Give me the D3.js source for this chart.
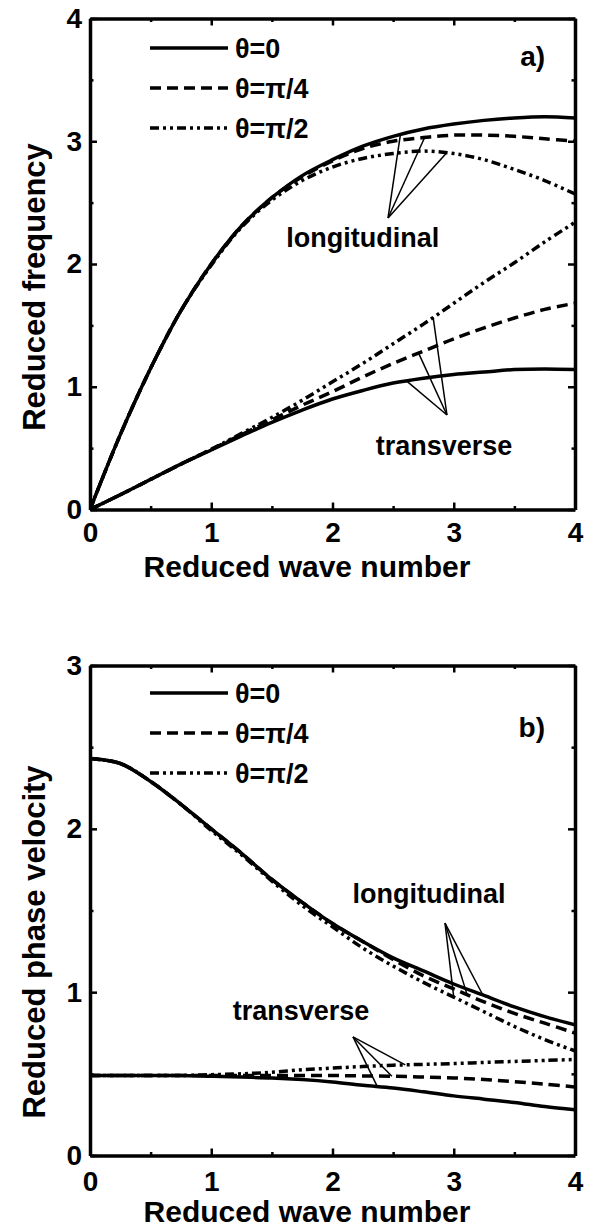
<!DOCTYPE html>
<html>
<head>
<meta charset="utf-8">
<script src="https://cdn.jsdelivr.net/npm/d3@7"></script>
<style>
  body { margin: 0; background: #fff; overflow: hidden; }
  svg { display: block; }
  svg text { font-family: "Liberation Sans", Arial, sans-serif; font-weight: bold; fill: #000; }
</style>
</head>
<body>
<svg id="chart" width="598" height="1232"></svg>
<script>
// reduced wave number grid shared by every curve
const waveNumber = [0, 0.25, 0.5, 0.75, 1, 1.25, 1.5, 1.75, 2, 2.25, 2.5, 2.75, 3, 3.25, 3.5, 3.75, 4];

// panel a) reduced frequency
const freqLong0   = [0, 0.61, 1.15, 1.62, 2.00, 2.31, 2.54, 2.72, 2.85, 2.96, 3.04, 3.10, 3.14, 3.17, 3.19, 3.20, 3.19];
const freqLongPi4 = [0, 0.61, 1.15, 1.62, 2.00, 2.31, 2.54, 2.71, 2.84, 2.94, 3.00, 3.03, 3.05, 3.05, 3.04, 3.02, 3.00];
const freqLongPi2 = [0, 0.61, 1.15, 1.62, 1.99, 2.30, 2.52, 2.68, 2.79, 2.86, 2.90, 2.92, 2.90, 2.85, 2.77, 2.68, 2.57];
const freqTrans0   = [0, 0.12, 0.245, 0.37, 0.485, 0.60, 0.71, 0.81, 0.90, 0.97, 1.03, 1.07, 1.10, 1.12, 1.14, 1.145, 1.14];
const freqTransPi4 = [0, 0.12, 0.245, 0.37, 0.49, 0.61, 0.73, 0.85, 0.96, 1.08, 1.19, 1.29, 1.39, 1.48, 1.56, 1.63, 1.68];
const freqTransPi2 = [0, 0.12, 0.245, 0.37, 0.49, 0.62, 0.75, 0.89, 1.04, 1.19, 1.35, 1.51, 1.68, 1.85, 2.01, 2.18, 2.34];

// panel b) reduced phase velocity
const velLong0   = [2.43, 2.40, 2.29, 2.15, 2.00, 1.85, 1.69, 1.55, 1.42, 1.31, 1.21, 1.13, 1.05, 0.98, 0.91, 0.85, 0.80];
const velLongPi4 = [2.43, 2.40, 2.29, 2.15, 2.00, 1.85, 1.69, 1.55, 1.42, 1.31, 1.20, 1.10, 1.02, 0.94, 0.87, 0.81, 0.75];
const velLongPi2 = [2.43, 2.40, 2.29, 2.15, 1.99, 1.84, 1.68, 1.53, 1.40, 1.27, 1.16, 1.06, 0.97, 0.88, 0.79, 0.71, 0.64];
const velTrans0   = [0.49, 0.49, 0.49, 0.49, 0.485, 0.48, 0.475, 0.465, 0.45, 0.43, 0.413, 0.39, 0.365, 0.345, 0.325, 0.30, 0.28];
const velTransPi4 = [0.49, 0.49, 0.49, 0.49, 0.49, 0.49, 0.49, 0.49, 0.49, 0.487, 0.485, 0.48, 0.475, 0.465, 0.452, 0.437, 0.42];
const velTransPi2 = [0.49, 0.49, 0.49, 0.49, 0.495, 0.50, 0.51, 0.525, 0.535, 0.545, 0.553, 0.558, 0.563, 0.57, 0.576, 0.582, 0.588];

const xTicks = [0, 1, 2, 3, 4];
const xMinor = [0.5, 1.5, 2.5, 3.5];
const legendLabels = ["θ=0", "θ=π/4", "θ=π/2"];
const styles = [null, "11,6", "9,4,3,4,3,4"];

const svg = d3.select("#chart");

const x = d3.scaleLinear().domain([0, 4]).range([90, 575]);

function drawPanel(p) {
    const y = d3.scaleLinear().domain([0, p.yMax]).range([p.bottom, p.top]);
    const g = svg.append("g");

    // curves, clipped to the frame
    g.append("clipPath").attr("id", p.id + "-clip")
        .append("rect").attr("x", 90).attr("y", p.top).attr("width", 485).attr("height", p.bottom - p.top);
    const line = d3.line().x(d => x(d[0])).y(d => y(d[1])).curve(d3.curveCatmullRom.alpha(0.5));
    const curves = g.append("g").attr("clip-path", `url(#${p.id}-clip)`);
    p.series.forEach((vals, i) => {
        curves.append("path")
            .datum(waveNumber.map((k, j) => [k, vals[j]]))
            .attr("d", line)
            .attr("fill", "none")
            .attr("stroke", "#000")
            .attr("stroke-width", 3.5)
            .attr("stroke-dasharray", styles[i % 3]);
    });

    // axes: labelled bottom/left, mirrored top/right, ticks inward
    const setup = (sel) => {
        sel.select(".domain").attr("stroke-width", 3.5);
        sel.selectAll(".tick line").attr("stroke-width", 2.5);
        sel.selectAll("text").attr("font-size", 28);
    };
    g.append("g").attr("transform", `translate(0,${p.bottom})`)
        .call(d3.axisBottom(x).tickValues(xTicks).tickSizeInner(-7).tickSizeOuter(0).tickPadding(p.xPad).tickFormat(d3.format("d")))
        .call(setup);
    g.append("g").attr("transform", `translate(0,${p.top})`)
        .call(d3.axisTop(x).tickValues(xTicks).tickSizeInner(-7).tickSizeOuter(0).tickFormat(""))
        .call(setup);
    g.append("g").attr("transform", "translate(90,0)")
        .call(d3.axisLeft(y).tickValues(p.yTicks).tickSizeInner(-7).tickSizeOuter(0).tickPadding(8).tickFormat(d3.format("d")))
        .call(setup);
    g.append("g").attr("transform", "translate(575,0)")
        .call(d3.axisRight(y).tickValues(p.yTicks).tickSizeInner(-7).tickSizeOuter(0).tickFormat(""))
        .call(setup);

    // minor ticks
    const minor = (sel) => { sel.select(".domain").remove(); sel.selectAll(".tick line").attr("stroke-width", 2.5); };
    g.append("g").attr("transform", `translate(0,${p.bottom})`)
        .call(d3.axisBottom(x).tickValues(xMinor).tickSize(-3.5).tickFormat("")).call(minor);
    g.append("g").attr("transform", `translate(0,${p.top})`)
        .call(d3.axisTop(x).tickValues(xMinor).tickSize(-3.5).tickFormat("")).call(minor);
    g.append("g").attr("transform", "translate(90,0)")
        .call(d3.axisLeft(y).tickValues(p.yMinor).tickSize(-3.5).tickFormat("")).call(minor);
    g.append("g").attr("transform", "translate(575,0)")
        .call(d3.axisRight(y).tickValues(p.yMinor).tickSize(-3.5).tickFormat("")).call(minor);

    // axis titles
    g.append("text").attr("x", 307).attr("y", p.bottom + p.xTitleGap)
        .attr("text-anchor", "middle").attr("font-size", 30).text("Reduced wave number");
    g.append("text").attr("transform", `translate(45,${p.yTitleCenter}) rotate(-90)`)
        .attr("text-anchor", "middle").attr("font-size", 31).text(p.yTitle);

    // legend
    legendLabels.forEach((lab, i) => {
        const ly = p.legendTop + i * 40;
        g.append("line").attr("x1", 150).attr("x2", 228).attr("y1", ly).attr("y2", ly)
            .attr("stroke", "#000").attr("stroke-width", 3.5).attr("stroke-dasharray", styles[i]);
        g.append("text").attr("x", 235).attr("y", ly).attr("dy", "0.36em")
            .attr("font-size", 27).text(lab);
    });

    // panel tag
    g.append("text").attr("x", x(p.tag[1])).attr("y", y(p.tag[2]))
        .attr("text-anchor", "end").attr("font-size", 28).text(p.tag[0]);

    // annotations with pointer lines to the curves
    p.notes.forEach(n => {
        g.append("text").attr("x", x(n.at[0])).attr("y", y(n.at[1]))
            .attr("text-anchor", "middle").attr("font-size", 27).text(n.text);
        n.targets.forEach(t => {
            const interp = d3.scaleLinear().domain(waveNumber).range(p.series[t[0]]);
            g.append("line")
                .attr("x1", x(n.apex[0])).attr("y1", y(n.apex[1]))
                .attr("x2", x(t[1])).attr("y2", y(interp(t[1])))
                .attr("stroke", "#000").attr("stroke-width", 1.5);
        });
    });
}

drawPanel({
    id: "a", top: 18.5, bottom: 509.5, yMax: 4,
    yTicks: [0, 1, 2, 3, 4], yMinor: [0.5, 1.5, 2.5, 3.5],
    xPad: 12.5, xTitleGap: 67, yTitleCenter: 287, yTitle: "Reduced frequency",
    legendTop: 48, tag: ["a)", 3.753, 3.61],
    series: [freqLong0, freqLongPi4, freqLongPi2, freqTrans0, freqTransPi4, freqTransPi2],
    notes: [
        { text: "longitudinal", at: [2.25, 2.14], apex: [2.458, 2.375], targets: [[0, 2.56], [1, 2.76], [2, 2.94]] },
        { text: "transverse", at: [2.92, 0.444], apex: [2.944, 0.77], targets: [[3, 2.61], [4, 2.71], [5, 2.83]] }
    ]
});

drawPanel({
    id: "b", top: 665.5, bottom: 1155.5, yMax: 3,
    yTicks: [0, 1, 2, 3], yMinor: [0.5, 1.5, 2.5],
    xPad: 16, xTitleGap: 66, yTitleCenter: 942, yTitle: "Reduced phase velocity",
    legendTop: 693, tag: ["b)", 3.753, 2.56],
    series: [velLong0, velLongPi4, velLongPi2, velTrans0, velTransPi4, velTransPi2],
    notes: [
        { text: "longitudinal", at: [2.796, 1.546], apex: [2.928, 1.423], targets: [[2, 3.0], [1, 3.11], [0, 3.24]] },
        { text: "transverse", at: [1.74, 0.83], apex: [2.169, 0.726], targets: [[3, 2.37], [4, 2.49], [5, 2.60]] }
    ]
});
</script>
</body>
</html>
